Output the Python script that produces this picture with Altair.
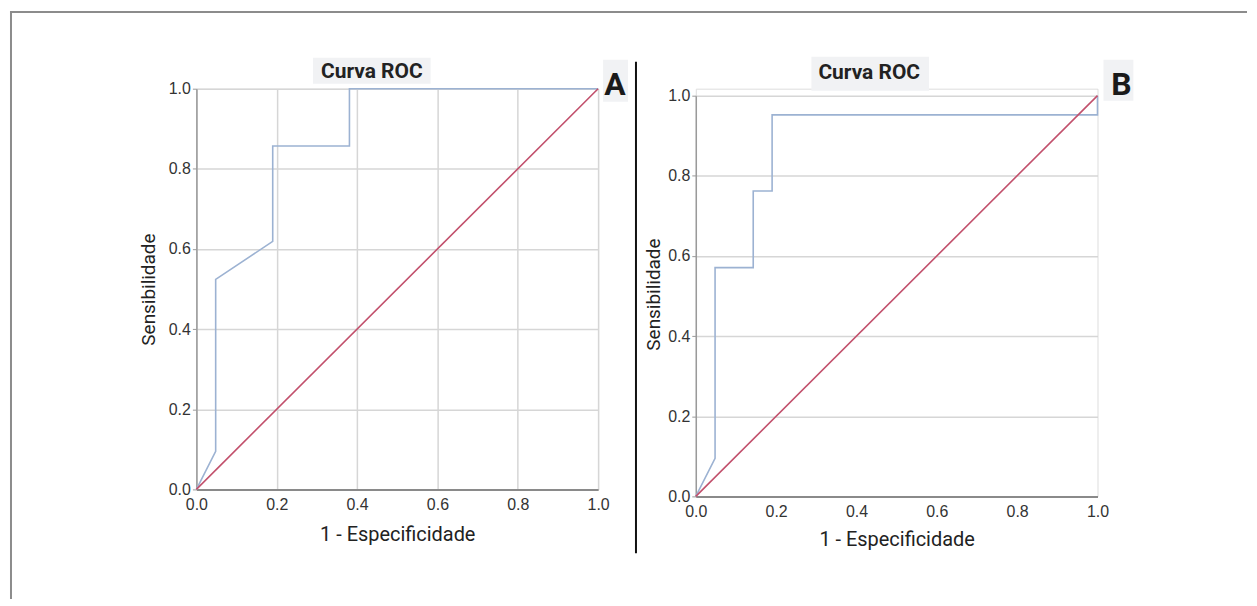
import altair as alt
import pandas as pd

# ROC curve A
a_fpr = [0.0, 0.048, 0.048, 0.190, 0.190, 0.381, 0.381, 1.0]
a_tpr = [0.0, 0.095, 0.524, 0.619, 0.857, 0.857, 1.0, 1.0]
# ROC curve B
b_fpr = [0.0, 0.048, 0.048, 0.143, 0.143, 0.190, 0.190, 1.0, 1.0]
b_tpr = [0.0, 0.095, 0.571, 0.571, 0.762, 0.762, 0.952, 0.952, 1.0]
# reference diagonal
diag = [0.0, 1.0]
ticks = [0.0, 0.2, 0.4, 0.6, 0.8, 1.0]

title_txt = "Curva ROC"
x_title = "1 - Especificidade"
y_title = "Sensibilidade"

NARROW = "Roboto"
REG = "Liberation Sans"
CURVE = "#9cb2d2"
DIAG = "#c2506c"
GRID = "#d6d6d6"

dfA = pd.DataFrame({"x": a_fpr, "y": a_tpr, "o": list(range(len(a_fpr)))})
dfB = pd.DataFrame({"x": b_fpr, "y": b_tpr, "o": list(range(len(b_fpr)))})
dfD = pd.DataFrame({"x": diag, "y": diag})
one = pd.DataFrame({"k": [0]})

W = 403
HA = 402
HB = 409


def axis_x(grid, title_y):
    return alt.Axis(values=ticks, format=".1f", grid=grid, gridColor=GRID, gridWidth=1.5,
                    domainColor="#8a8a8a", domainWidth=2, ticks=False, labelPadding=7,
                    labelFont=REG, labelFontSize=16, labelColor="#333",
                    title=x_title, titleFont=NARROW, titleFontSize=20, titleFontWeight="normal",
                    titleColor="#222", titleY=title_y, titleBaseline="middle", labelFlush=False)


def axis_y(title_x, title_y):
    return alt.Axis(values=ticks, format=".1f", grid=True, gridColor=GRID, gridWidth=1.5,
                    domainColor="#9a9a9a", domainWidth=1.5, tickColor="#9a9a9a", tickSize=4,
                    labelPadding=2, labelFont=REG, labelFontSize=16, labelColor="#333",
                    title=y_title, titleFont=NARROW, titleFontSize=19, titleFontWeight="normal",
                    titleColor="#222", titleX=title_x, titleY=title_y, titleAngle=-90,
                    titleAlign="center", titleBaseline="middle", labelFlush=False)


def panel(df, grid_x, yrange, h, tx, ty, xty, box, txt, lab_box, lab_txt, letter, extra):
    xs = alt.Scale(domain=[0, 1], nice=False, zero=False)
    ys = alt.Scale(domain=[0, 1], nice=False, zero=False, range=yrange)
    curve = alt.Chart(df).mark_line(color=CURVE, strokeWidth=1.6).encode(
        x=alt.X("x:Q", scale=xs, axis=axis_x(grid_x, xty)),
        y=alt.Y("y:Q", scale=ys, axis=axis_y(tx, ty)),
        order="o:Q",
    )
    dline = alt.Chart(dfD).mark_line(color=DIAG, strokeWidth=1.6).encode(
        x=alt.X("x:Q", scale=xs), y=alt.Y("y:Q", scale=ys)
    )
    tbox = alt.Chart(one).mark_rect(color="#f1f2f4").encode(
        x=alt.value(box[0]), x2=alt.value(box[1]), y=alt.value(box[2]), y2=alt.value(box[3])
    )
    ttxt = alt.Chart(one).mark_text(font=NARROW, fontSize=21, fontWeight="bold", color="#222",
                                    align="center", baseline="middle").encode(
        x=alt.value(txt[0]), y=alt.value(txt[1]), text=alt.value(title_txt)
    )
    lbox = alt.Chart(one).mark_rect(color="#f1f2f4").encode(
        x=alt.value(lab_box[0]), x2=alt.value(lab_box[1]), y=alt.value(lab_box[2]), y2=alt.value(lab_box[3])
    )
    ltxt = alt.Chart(one).mark_text(font=NARROW, fontSize=32, fontWeight="bold", color="#1a1a1a",
                                    align="center", baseline="middle").encode(
        x=alt.value(lab_txt[0]), y=alt.value(lab_txt[1]), text=alt.value(letter)
    )
    layers = [curve, dline, tbox, ttxt, lbox, ltxt] + extra
    return alt.layer(*layers).properties(width=W, height=h)


# frame and divider (drawn in panel A's coordinates)
top_border = alt.Chart(one).mark_rule(color="#8c8c8c", strokeWidth=2).encode(
    x=alt.value(-187), x2=alt.value(1054), y=alt.value(-77)
)
left_border = alt.Chart(one).mark_rule(color="#8c8c8c", strokeWidth=2).encode(
    x=alt.value(-186), y=alt.value(-78), y2=alt.value(512)
)
divider = alt.Chart(one).mark_rule(color="#111", strokeWidth=2).encode(
    x=alt.value(441), y=alt.value(-27), y2=alt.value(466)
)

chartA = panel(dfA, True, [HA, 0], HA, -48, 201, 45,
               (117, 235, -31, -5), (176, -17), (408, 433, -29, 13), (420, -4), "A",
               [top_border, left_border, divider])
chartB = panel(dfB, False, [HB, 7], HB, -42, 206, 43,
               (116, 234, -32, 2), (174, -16), (409, 439, -29, 12), (427, -4), "B", [])

chart = alt.hconcat(chartA, chartB, spacing=98, bounds="flush").properties(
    padding=0
).configure_view(stroke=None).configure(background="white")

chart.save("out.html", embed_options={"renderer": "svg", "actions": False})
